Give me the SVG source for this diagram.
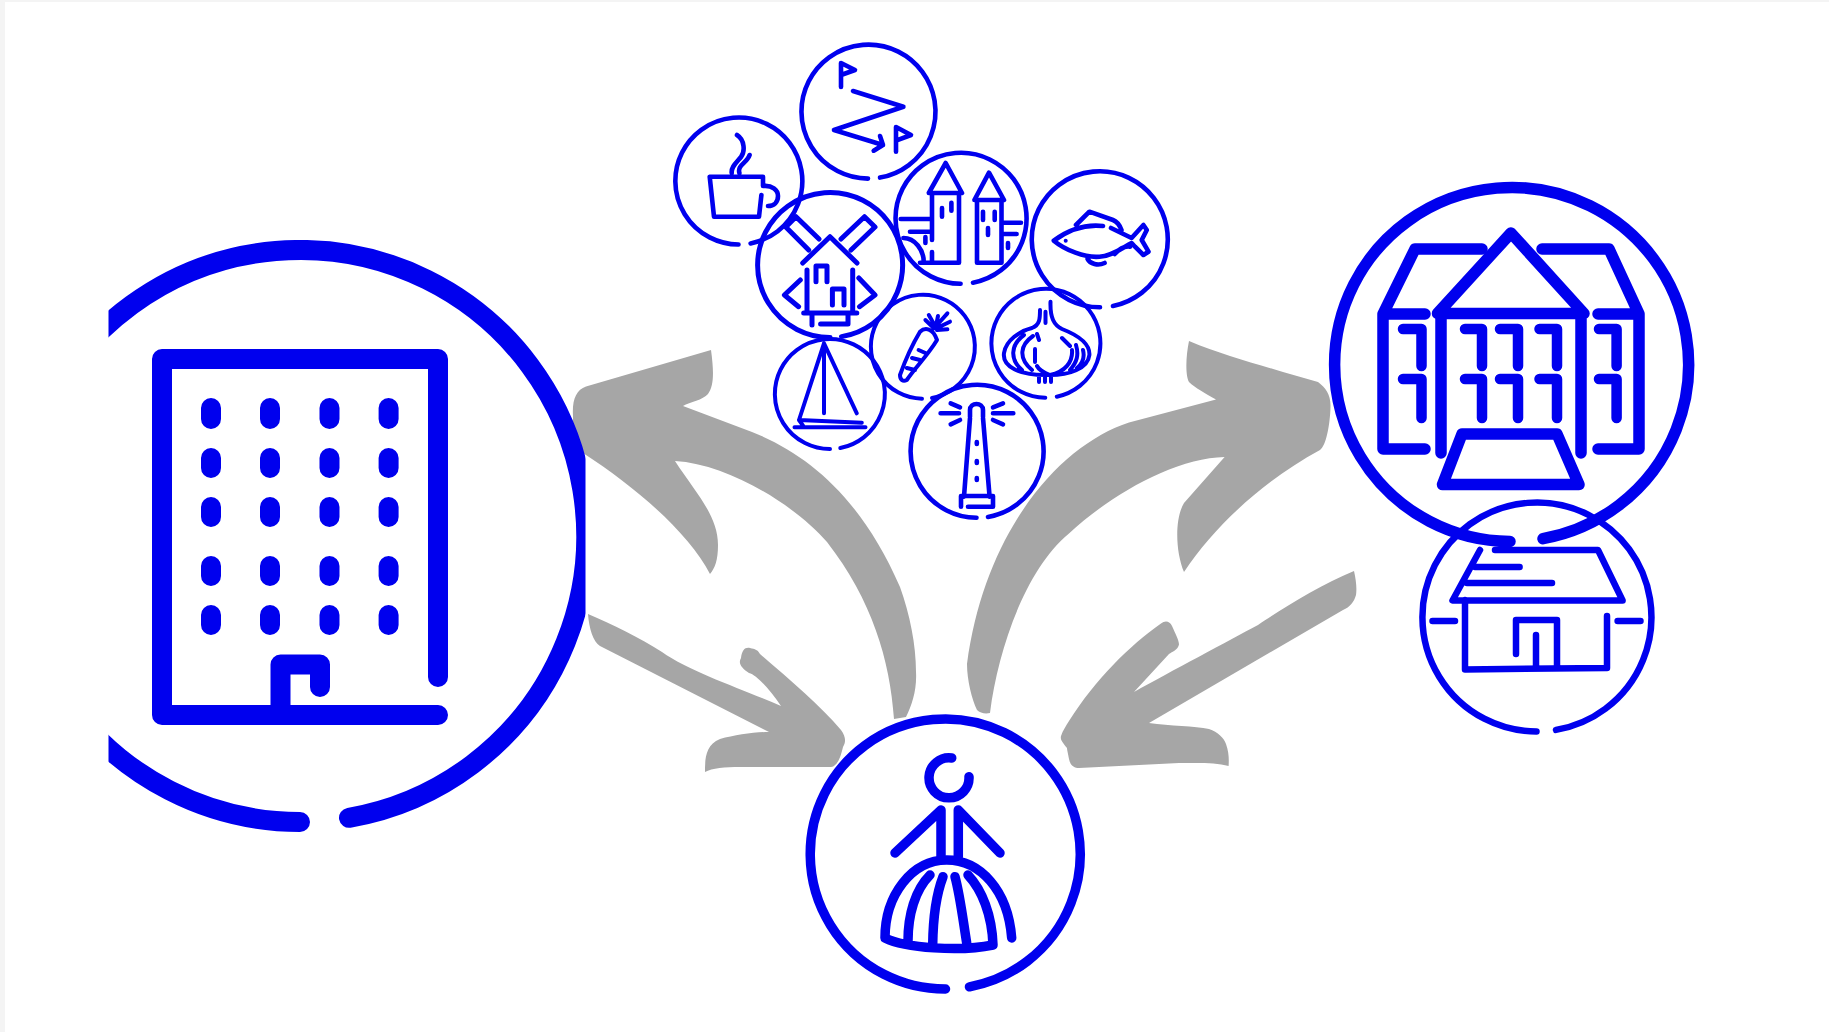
<svg xmlns="http://www.w3.org/2000/svg" width="1829" height="1032" viewBox="0 0 1829 1032">
<style>
.l{fill:none;stroke:#0000ee;stroke-linecap:round;stroke-linejoin:round}
.s3{stroke-width:4}.s4{stroke-width:4.600}.s5{stroke-width:5}.s6{stroke-width:6.500}.s9{stroke-width:9.500}.s10{stroke-width:10.500}.s11{stroke-width:11.500}.s20{stroke-width:20}
.a{fill:#a6a6a6}
</style>
<defs><clipPath id="cl"><rect x="108.500" y="240" width="477" height="592"/></clipPath></defs>
<rect width="1829" height="1032" fill="#f4f4f4"/>
<rect x="5" y="2" width="1824" height="1030" fill="#fff"/>
<g id="connectors">
<path class="a" d="M711,350C714,372 714,386 708,394C703,400 690,402 683,406L752,432C810,455 862,500 900,587C910,615 916,645 916,672C917,690 912,705 906,717L894,719C890,660 872,600 827,542C798,508 730,464 675,461C695,492 718,515 718,545C718,560 715,568 710,574C690,535 640,490 583,453C574,445 573,430 573,416C572,400 576,390 586,386.500Z"/>
<path class="a" d="M588,614C612,624 640,638 662,652C690,672 745,690 781,706C770,690 757,675 749,673C741,668 738,663 741,658C742,650 745,647 750,648C755,649 758,650 760,654C790,680 820,705 841,730C846,737 846,742 843,747C841,755 839,762 835,765C833,767 832,767 829,767L740,767C725,767 712,768 705,772C705,760 705,745 720,739C735,735 755,732 769,732L600,646C593,642 589,628 588,614Z"/>
<path class="a" d="M1216,399.600L1129,422.600C1060,445 985,530 967,664C967,680 972,700 977,710C980,713 985,714 990,713C998,650 1025,570 1069,533.600C1110,495 1175,458 1224.600,457L1184,503C1175,518 1175,550 1184,572C1215,525 1265,480 1320,450C1326,446 1330,425 1330.500,407C1331,395 1326,388 1318,382L1283,372C1250,362 1220,354 1189,341C1186,355 1185,375 1189,382C1195,388 1205,393 1216,399.600Z"/>
<path class="a" d="M1354,571C1356,580 1357,588 1356,595C1354,602 1350,607 1343,610L1149,723C1170,726 1195,726 1209,729C1218,732 1224,738 1226,744C1229,752 1229,760 1228.600,766C1215,762 1195,763 1179,763L1079,768C1074,768 1070,765 1069,759C1068,753 1067,750 1067,748C1063,743 1060,740 1061,736C1063,730 1066,726 1069,721C1095,680 1130,645 1161,623.500C1165,620 1170,621 1172,626C1175,633 1179,640 1179,644.600C1178,650 1172,652 1169,654L1134,692C1170,672 1230,640 1258,625C1280,610 1320,585 1354,571Z"/>
</g>
<g id="office" clip-path="url(#cl)">
<path class="l s20" d="M349,817.800A286 286 0 1 0 300,822"/>
<path class="l s20" d="M438,677V359H162V715H438M280.500,715V664.600H320V687"/>
<path class="l s20" d="M211,408v11M270,408v11M329.500,408v11M388.600,408v11M211,458v10M270,458v10M329.500,458v10M388.600,458v10M211,507v10M270,507v10M329.500,507v10M388.600,507v10M211,566v10M270,566v10M329.500,566v10M388.600,566v10M211,615v10M270,615v10M329.500,615v10M388.600,615v10"/>
</g>
<g id="manor">
<path class="l s11" d="M1543,538.700A177 177 0 1 0 1510,541.500"/>
<path class="l s11" d="M1437.500,313.500L1511,233L1584,313.500ZM1441,313.500V453M1581,313.500V453"/>
<path class="l s11" d="M1482,249H1415L1383,314H1425M1383,314V449H1425M1542,249H1609L1639,314H1598M1639,314V449H1598"/>
<path class="l s10" d="M1403,329H1421.500V366M1403,379H1421.500V418M1465,329H1482V366M1500,329H1518V366M1539.500,329H1557V366M1465,379H1482V418M1500,379H1518V418M1539.500,379H1557V418M1599,329H1616.600V366M1599,379H1616.600V418"/>
<path class="l s11" d="M1462,434H1557L1579,484.600H1442.500Z"/>
</g>
<g id="house">
<path class="l s6" d="M1556,729.900A114.500 114.500 0 1 0 1536.500,731.500"/>
<path class="l s6" d="M1480,550L1452.500,600.500H1622.600L1598,550H1495M1475,567H1519.600M1467,583H1552M1465,600V669.400L1607,668V616M1516,654V620H1557V668M1536,635V668M1432.500,621H1455M1617.600,621H1640.500"/>
</g>
<g id="dress">
<path class="l s9" d="M969.500,986.800A135 135 0 1 0 945.500,989"/>
<path class="l s9" d="M951.700,758A20 20 0 1 0 969,776.700"/>
<path class="l s9" d="M895,853L941,810V856.700M1000,853L958.300,810V856.700"/>
<path class="l s9" d="M1011.700,938C1008,890 980,860 946.700,860C912,860 885,895 885,938C905,948 960,952 993,945C992,915 982,890 968,875M908,941C908,915 915,890 930,875M932.700,945C933,920 936,895 943,876.700M966.700,943C963,920 960,895 955,876.700"/>
</g>
<g id="route">
<path class="l s4" d="M880,177.600A67 67 0 1 0 868,178.600"/>
<path class="l s4" d="M841,87V63L855,70L841,75M853,91L903.400,106.700L834,130L883,145M880,136L883,145L873.700,150.700M896,151.700V127L911,135L896,140.700"/>
</g>
<g id="cup">
<path class="l s4" d="M750.600,243.400A63.500 63.500 0 1 0 738.500,244.500"/>
<path class="l s4" d="M761.400,195L759,216.700H714L709.700,176.700H763V186C772,185 778,190 778,196C778,202 774,206 768,206M737,135C745,140 745,152 741,157C736,163 731,167 731.700,173M749.600,155C747,163 737,165 739.400,173"/>
</g>
<g id="towers">
<path class="l s4" d="M973,282.700A65.500 65.500 0 1 0 960.600,283.800"/>
<path class="l s4" d="M928.800,193L945.700,163L962,193ZM932,193V240M932,252V262.700M959,193V262.700H920M942,208V216.700M951.400,202.700V210.700"/>
<path class="l s4" d="M974.400,200L989,172.700L1004,200ZM977,200V262.700H1001.500V200M983,211.700V220M994.700,211.700V220M988,228V235"/>
<path class="l s4" d="M900.700,219H930.400M910,231.700H930.400M903.400,238C915,238 923.700,250 923.700,261.700M925.400,237V243M1003,222.700H1021M1003,234H1016.600M1008,243V248"/>
</g>
<g id="fish">
<path class="l s4" d="M1113,306A68 68 0 1 0 1100,307.300"/>
<path class="l s4" d="M1103,226C1085,224 1068,230 1053.800,240.700C1065,250 1085,258 1099.500,256.700C1112,256 1122,248 1131.600,243L1135,246.700L1143.400,255L1148.500,251.700L1141.700,240L1146.800,230L1143.400,225L1131.600,238L1111,228M1076,225L1089.400,211.700L1113,220C1118,222 1120,226 1121.500,230M1087.600,259C1090,264 1098,266 1104.600,263M1114.700,254C1120,248 1125,246 1130,246.700"/>
<circle cx="1065.700" cy="240.700" r="2" fill="#0000ee"/>
</g>
<g id="garlic">
<path class="l s3" d="M1056.800,396.700A54.500 54.500 0 1 0 1045.300,397.800"/>
<path class="l s3" d="M1050.500,301.700C1050,318 1054,325 1062,329C1080,336 1090,345 1089.400,355C1088,368 1070,376 1045.400,375C1020,375 1002,367 1004,353C1006,340 1020,331 1032,328C1040,325 1040,318 1040,310M1045.500,311.700V323M1024,335C1010,345 1010,360 1022,370M1033,336C1020,345 1018,358 1032,370M1035,349V362M1037,334L1039,340M1062,338L1070,346M1076,345C1079,355 1077,362 1070,370M1083,350C1085,358 1082,364 1077,368M1072,350C1073,362 1065,372 1050,375C1042,372 1038,368 1037,366M1039,376V382M1045,376V382M1051,376V382"/>
</g>
<g id="carrot">
<path class="l s3" d="M932,397.900A52 52 0 1 0 922,398.700"/>
<path class="l s3" d="M900,375C906,358 912,345 920,331.700C925,327 933,328 937,340C928,355 915,368 906.800,380C903,382 900,380 900,375ZM912,358L920,360M906.800,368L915,370M918.600,350L925.400,353M928.800,315L935.500,326.700M947.400,313.300L937,325M950,321.700L939,327M947.400,329.300L937,330M925.400,320L934,328.300M938,316L936,326"/>
</g>
<g id="sailboat">
<path class="l s3" d="M840.300,448A55 55 0 1 0 830,449"/>
<path class="l s3" d="M824,343.300L799,420L861.800,422.700M824,343.300V413.300M824,343.300L856.800,413.300M799,420L803.700,426.700M794.500,427.300H865.500"/>
</g>
<g id="lighthouse">
<path class="l s4" d="M988,516.900A66.500 66.500 0 1 0 976.500,517.800"/>
<path class="l s4" d="M970,416.700V410C970,402 983,402 983,410V416.700M970,418L964,496.700M983,418L989.600,496.700M961,506.700V496H993V506.700H968M940.600,413.300H959M950.700,403.300L960,407.300M950.700,424.300L960,420M993,413.300H1013.300M993,407.300L1003,403.300M993,420L1003,424.300M976.800,442v2M976.800,461v2M976.800,478v2"/>
</g>
<g id="windmill">
<path class="l s5" d="M841.500,336.600A72.500 72.500 0 1 0 830,337.500"/>
<path class="l s5" d="M802.700,263L830,236.700L857,263M808.700,250L785.800,227L796,216.700L819,239M841,239L864.500,216.700L875,227L851,250M800.300,280L784.400,295L798.600,306.700M858.800,278L875,295L859.500,306.700M807,270V313M852.700,270V313M803.700,313H856.800M812,313V325M848,313V324H820.600M816,281.700V266H827V281.700M832.400,305V289H844V305"/>
</g>
</svg>
